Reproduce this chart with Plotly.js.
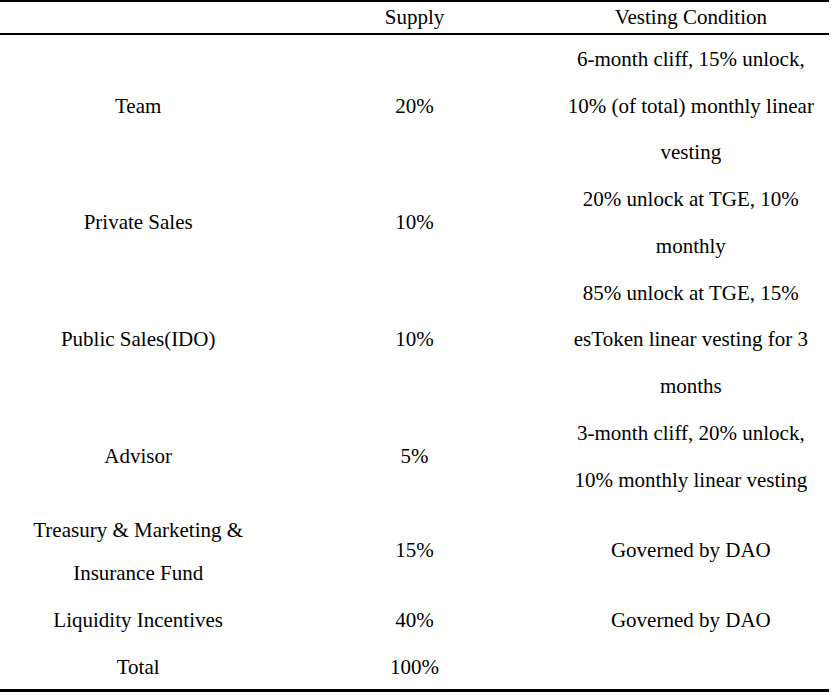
<!DOCTYPE html>
<html><head><meta charset="utf-8">
<script src="https://cdn.plot.ly/plotly-3.0.1.min.js"></script>
<style>html,body{margin:0;padding:0;overflow:hidden;background:#fff}#chart{width:838px;height:710px}</style>
</head><body><div id="chart"></div>
<script>
// ---- data ----
const headers = ["", "Supply", "Vesting Condition"];
const categories = [
  ["Team"],
  ["Private Sales"],
  ["Public Sales(IDO)"],
  ["Advisor"],
  ["Treasury & Marketing &", "Insurance Fund"],
  ["Liquidity Incentives"],
  ["Total"]
];
const supply = ["20%", "10%", "10%", "5%", "15%", "40%", "100%"];
const vesting = [
  ["6-month cliff, 15% unlock,", "10% (of total) monthly linear", "vesting"],
  ["20% unlock at TGE, 10%", "monthly"],
  ["85% unlock at TGE, 15%", "esToken linear vesting for 3", "months"],
  ["3-month cliff, 20% unlock,", "10% monthly linear vesting"],
  ["Governed by DAO"],
  ["Governed by DAO"],
  []
];

// ---- layout grid: one table row per text line, half-line offsets on a second layer ----
const groupLines = categories.map((c, i) => Math.max(c.length, 1, vesting[i].length));
const totalLines = groupLines.reduce((a, b) => a + b, 0);
const colsA = [0, 1, 2].map(() => new Array(totalLines).fill(""));
const colsB = [0, 1, 2].map(() => new Array(totalLines).fill(""));
let base = 0;
categories.forEach((cat, i) => {
  const n = groupLines[i];
  [cat, [supply[i]], vesting[i]].forEach((lines, c) => {
    const start = (n - lines.length) / 2;
    lines.forEach((t, j) => {
      const pos = base + start + j;
      if (Number.isInteger(pos)) colsA[c][pos] = t;
      else colsB[c][Math.floor(pos)] = t;
    });
  });
  base += n;
});
let lastB = 0;
for (let r = 0; r < totalLines; r++) if (colsB.some(col => col[r] !== "")) lastB = r;
const colsBTrim = colsB.map(col => col.slice(0, lastB + 1));

const W = 838, H = 710;
const ROW = 46.77, HEAD = 42;
const FONT = "Liberation Serif";
const clear = 'rgba(0,0,0,0)';
const py = p => 1 - p / H;
const px = p => p / W;

function table(values, headerColor, yTop) {
  return {
    type: 'table',
    columnwidth: [1, 1, 1],
    domain: {x: [0, px(829)], y: [0, yTop]},
    header: {
      values: headers, height: HEAD, align: 'center',
      fill: {color: clear}, line: {width: 0, color: clear},
      font: {family: FONT, size: 21, color: headerColor}
    },
    cells: {
      values: values, height: ROW, align: 'center',
      fill: {color: clear}, line: {width: 0, color: clear},
      font: {family: FONT, size: 21, color: '#000'}
    }
  };
}

const data = [
  table(colsA, '#000', 1),
  table(colsBTrim, clear, py(ROW / 2))
];

const bar = (y0, y1) => ({type: 'rect', xref: 'paper', yref: 'paper',
  x0: 0, x1: px(829), y0: py(y0), y1: py(y1), fillcolor: '#000', line: {width: 0}});

const layout = {
  width: W, height: H,
  margin: {l: 0, r: 0, t: 0, b: 0},
  paper_bgcolor: '#fff',
  shapes: [bar(0, 2), bar(33, 35), bar(689, 692)],
  showlegend: false
};
Plotly.newPlot('chart', data, layout, {displayModeBar: false, staticPlot: true});
</script>
</body></html>
